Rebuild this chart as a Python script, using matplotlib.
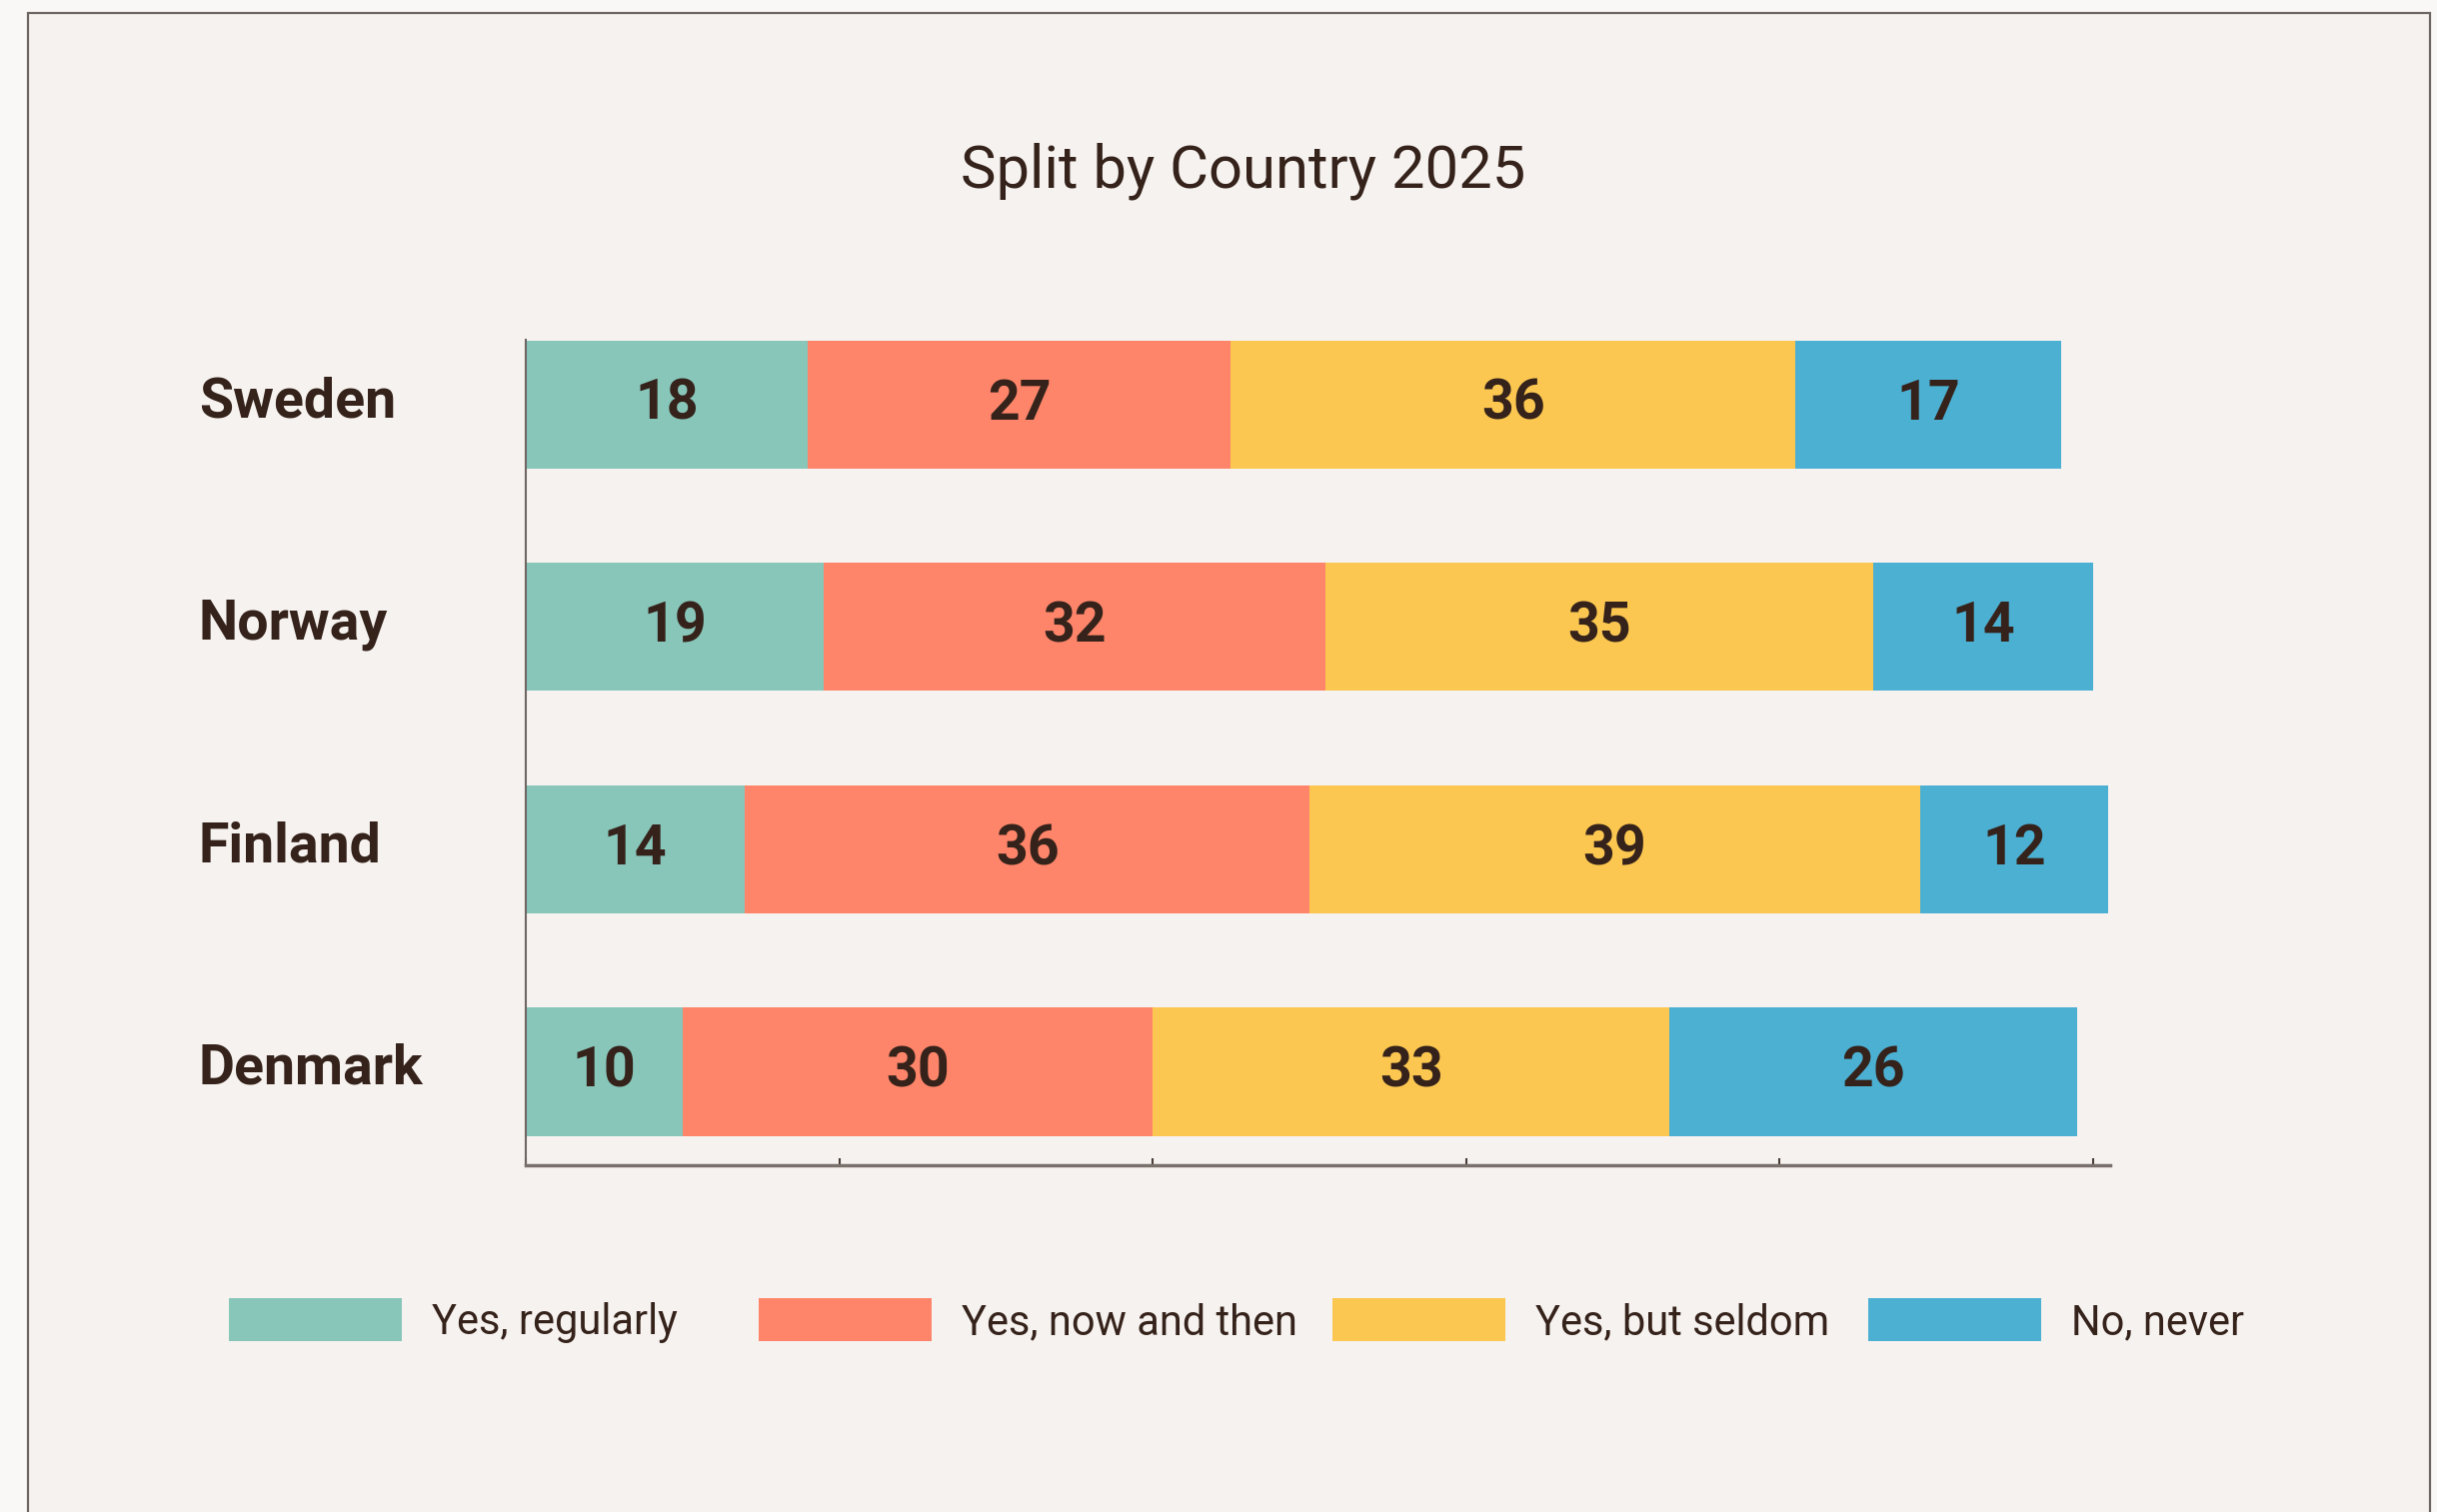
import matplotlib
matplotlib.use('Agg')
import matplotlib.pyplot as plt
from matplotlib.patches import Rectangle
from matplotlib.transforms import offset_copy, blended_transform_factory

plt.rcParams['font.family'] = ['Roboto', 'DejaVu Sans']

# Dados
countries = ['Sweden', 'Norway', 'Finland', 'Denmark']
categories = ['Yes, regularly', 'Yes, now and then', 'Yes, but seldom', 'No, never']
regularly = [18, 19, 14, 10]
now_and_then = [27, 32, 36, 30]
seldom = [36, 35, 39, 33]
never = [17, 14, 12, 26]
series = [regularly, now_and_then, seldom, never]
colors = ['#88C6BA', '#FF856A', '#FCC750', '#4CB0D3']
title = 'Split by Country 2025'

text_color = '#35231B'
W, H = 2438, 1513
fig = plt.figure(figsize=(W / 100, H / 100), dpi=100)
fig.patch.set_facecolor('#FAF8F6')

# painel de fundo com borda
fig.patches.append(Rectangle((28 / W, -0.02), (2431 - 28) / W, 1 - 13 / H + 0.02,
                             transform=fig.transFigure, facecolor='#F6F2EF',
                             edgecolor='#6E6663', linewidth=1.6, zorder=-10))

ax = fig.add_axes([526 / W, 1 - 1166 / H, (2111 - 526) / W, (1166 - 340) / H])
ax.set_facecolor('none')
ax.set_zorder(1)

ypos = list(range(len(countries)))[::-1]  # Sweden no topo
bar_h = 0.575
left = [0] * len(countries)
val_trans = offset_copy(ax.transData, fig=fig, y=-11, units='points')
for vals, color in zip(series, colors):
    ax.barh(ypos, vals, left=left, height=bar_h, color=color, zorder=2)
    for y, v, l in zip(ypos, vals, left):
        ax.text(l + v / 2, y, str(v), ha='center', va='baseline', fontsize=40,
                fontweight='bold', color=text_color, transform=val_trans, zorder=3)
    left = [a + b for a, b in zip(left, vals)]

ax.set_xlim(0, 101.1)
ax.set_ylim(-0.42, 3.29)
ax.set_xticks(range(0, 101, 20))
ax.set_xticklabels([])
ax.set_yticks([])
ax.tick_params(axis='x', direction='in', length=5, width=1.5, color='#4a3d36')
for s in ['top', 'right']:
    ax.spines[s].set_visible(False)
ax.spines['left'].set_color('#6E6663')
ax.spines['left'].set_linewidth(1.5)
ax.spines['bottom'].set_color('#7A716D')
ax.spines['bottom'].set_linewidth(2.5)

# rótulos dos países
lab_trans = offset_copy(blended_transform_factory(fig.transFigure, ax.transData),
                        fig=fig, y=-9, units='points')
for y, name in zip(ypos, countries):
    ax.text(199 / W, y, name, ha='left', va='baseline', fontsize=40,
            fontweight='bold', color=text_color, transform=lab_trans, clip_on=False)

# título
fig.text(1244 / W, 1 - 187 / H, title, ha='center', va='baseline',
         fontsize=43, color=text_color)

# legenda
legend_x = [229, 759, 1333, 1869]
for x, cat, color in zip(legend_x, categories, colors):
    fig.patches.append(Rectangle((x / W, 1 - 1342 / H), 173 / W, 43 / H,
                                 transform=fig.transFigure, facecolor=color, zorder=1))
    fig.text((x + 203) / W, 1 - 1335 / H, cat, ha='left', va='baseline',
             fontsize=30, color=text_color)

plt.savefig('out.png', dpi=100, facecolor=fig.get_facecolor())
